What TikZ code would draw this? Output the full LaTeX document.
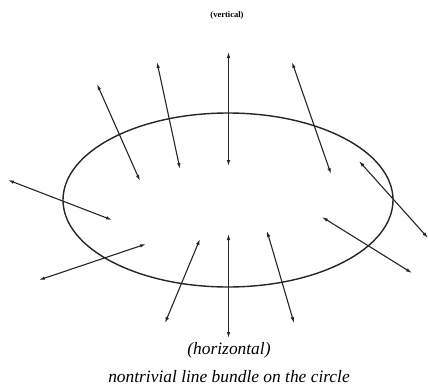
\documentclass[tikz,border=0pt]{standalone}
\usepackage{fontspec}
\setmainfont{Liberation Serif}
\usetikzlibrary{arrows.meta}
\begin{document}
\begin{tikzpicture}[x=1pt,y=-1pt,
  fib/.style={{Latex[length=6pt,width=3.6pt]}-{Latex[length=6pt,width=3.6pt]}, line width=1.1pt, black!85},
  lab/.style={font=\fontsize{17.4}{20}\selectfont\itshape, inner sep=0pt}]
\useasboundingbox (0,0) rectangle (428,388);
\draw[line width=1.4pt, black!85] (228,200) ellipse [x radius=165, y radius=87];
% fibres
\coordinate (a1) at (228.5,52);  \coordinate (b1) at (228.5,166);
\coordinate (a2) at (157,62);  \coordinate (b2) at (180,169);
\coordinate (a3) at (97,84);   \coordinate (b3) at (140,181);
\coordinate (a4) at (8,180);   \coordinate (b4) at (112,220);
\coordinate (a5) at (292,62);  \coordinate (b5) at (331,174);
\coordinate (a6) at (359,161); \coordinate (b6) at (428,238);
\coordinate (a7) at (322,217); \coordinate (b7) at (412,273);
\coordinate (a8) at (39,280);  \coordinate (b8) at (146,244);
\coordinate (a9) at (200,239); \coordinate (b9) at (165,323);
\coordinate (a10) at (228.5,234); \coordinate (b10) at (228.5,338);
\coordinate (a11) at (267,231); \coordinate (b11) at (294,323);
\foreach \i in {1,...,11} \draw[fib] (a\i) -- (b\i);
\node[font=\fontsize{8.5}{10}\selectfont\bfseries, inner sep=0pt] (v) at (227,15) {(vertical)};
\node[lab] (h) at (229,350) {(horizontal)};
\node[lab] (t) at (229,377) {nontrivial line bundle on the circle};
\end{tikzpicture}
\end{document}
